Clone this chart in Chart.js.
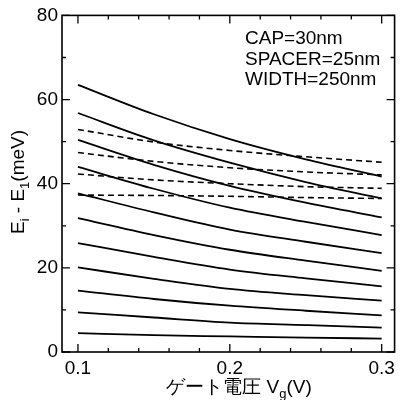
<!DOCTYPE html>
<html>
<head>
<meta charset="utf-8">
<script src="https://cdn.jsdelivr.net/npm/chart.js@4/dist/chart.umd.min.js"></script>
<style>
html,body{margin:0;padding:0;background:#fff;}
#wrap{width:400px;height:400px;}
</style>
</head>
<body>
<div id="wrap"><canvas id="c" width="400" height="400"></canvas></div>
<script>
// ---- data ----
const gateVoltage = [0.10, 0.15, 0.20, 0.25, 0.30];

const level1  = [63.5, 56.5, 50.6, 45.8, 41.7];
const level2  = [56.8, 50.3, 45.0, 40.4, 36.5];
const level3  = [50.4, 44.5, 39.5, 35.5, 32.0];
const level4  = [44.0, 38.8, 34.3, 30.9, 27.8];
const level5  = [37.7, 33.2, 29.1, 26.2, 23.5];
const level6  = [31.8, 27.8, 24.3, 21.7, 19.3];
const level7  = [25.9, 22.6, 19.6, 17.5, 15.6];
const level8  = [20.1, 17.4, 15.0, 13.5, 12.2];
const level9  = [14.6, 12.6, 11.0,  9.8,  8.7];
const level10 = [ 9.4,  8.2,  7.0,  6.4,  5.8];
const level11 = [ 4.5,  4.0,  3.7,  3.4,  3.2];

const dashedA = [52.9, 49.9, 47.9, 46.4, 45.1];
const dashedB = [47.4, 45.3, 43.8, 42.8, 42.1];
const dashedC = [42.3, 40.9, 40.0, 39.3, 38.9];
const dashedD = [37.3, 37.2, 37.0, 36.7, 36.5];

const xTickValues = [0.10, 0.12, 0.14, 0.16, 0.18, 0.20, 0.22, 0.24, 0.26, 0.28, 0.30];
const xTickLabels = ['0.1', '', '', '', '', '0.2', '', '', '', '', '0.3'];
const yTickValues = [0, 10, 20, 30, 40, 50, 60, 70, 80];
const yTickLabels = ['0', '', '20', '', '40', '', '60', '', '80'];

const annotationLines = ['CAP=30nm', 'SPACER=25nm', 'WIDTH=250nm'];
const xTitle = [{t: 'ゲート電圧 V', sub: false}, {t: 'g', sub: true}, {t: '(V)', sub: false}];
const yTitle = [{t: 'E', sub: false}, {t: 'i', sub: true}, {t: ' - E', sub: false}, {t: '1', sub: true}, {t: '(meV)', sub: false}];

// ---- chart ----
const FONT = '"Liberation Sans", Arial, Helvetica, sans-serif';
const solidSeries = [level1, level2, level3, level4, level5, level6, level7, level8, level9, level10, level11];
const dashedSeries = [dashedA, dashedB, dashedC, dashedD];

function toPoints(arr) { return gateVoltage.map((x, i) => ({x: x, y: arr[i]})); }

const datasets = [];
solidSeries.forEach(s => datasets.push({
  data: toPoints(s), borderColor: '#000', borderWidth: 1.8, pointRadius: 0,
  fill: false, cubicInterpolationMode: 'monotone'
}));
dashedSeries.forEach(s => datasets.push({
  data: toPoints(s), borderColor: '#000', borderWidth: 1.6, borderDash: [6, 4], pointRadius: 0,
  fill: false, cubicInterpolationMode: 'monotone'
}));

function drawRich(ctx, segs, size, subSize, subDrop) {
  // draws centered at origin, baseline y=0
  let total = 0;
  const widths = segs.map(s => {
    ctx.font = (s.sub ? subSize : size) + 'px ' + FONT;
    const w = ctx.measureText(s.t).width;
    total += w;
    return w;
  });
  let x = -total / 2;
  segs.forEach((s, i) => {
    ctx.font = (s.sub ? subSize : size) + 'px ' + FONT;
    ctx.fillText(s.t, x, s.sub ? subDrop : 0);
    x += widths[i];
  });
}

const framePlugin = {
  id: 'frame',
  afterDraw(chart) {
    const ctx = chart.ctx;
    const a = chart.chartArea;
    const xs = chart.scales.x, ys = chart.scales.y;
    ctx.save();
    ctx.strokeStyle = '#000';
    ctx.lineWidth = 1.6;
    ctx.strokeRect(a.left, a.top, a.right - a.left, a.bottom - a.top);
    ctx.lineWidth = 1.3;
    ctx.beginPath();
    yTickValues.forEach((v, i) => {
      const p = ys.getPixelForValue(v);
      const len = yTickLabels[i] ? 8 : 4;
      ctx.moveTo(a.left, p); ctx.lineTo(a.left + len, p);
      ctx.moveTo(a.right, p); ctx.lineTo(a.right - len, p);
    });
    xTickValues.forEach((v, i) => {
      const p = xs.getPixelForValue(v);
      const len = xTickLabels[i] ? 8 : 4;
      ctx.moveTo(p, a.bottom); ctx.lineTo(p, a.bottom - len);
      ctx.moveTo(p, a.top); ctx.lineTo(p, a.top + len);
    });
    ctx.stroke();

    ctx.fillStyle = '#000';
    ctx.textBaseline = 'alphabetic';
    ctx.textAlign = 'left';
    ctx.font = '19px ' + FONT;
    const baselines = [44, 64.5, 85];
    annotationLines.forEach((t, i) => ctx.fillText(t, 245, baselines[i]));

    // x title
    ctx.save();
    ctx.translate(239, 393);
    drawRich(ctx, xTitle, 19, 13, 5);
    ctx.restore();

    // y title
    ctx.save();
    ctx.translate(24, 182);
    ctx.rotate(-Math.PI / 2);
    drawRich(ctx, yTitle, 19, 13, 5);
    ctx.restore();
    ctx.restore();
  }
};

new Chart(document.getElementById('c'), {
  type: 'line',
  data: {datasets: datasets},
  options: {
    responsive: false,
    animation: false,
    events: [],
    layout: {padding: {left: 0, right: 3, top: 15, bottom: 0}},
    plugins: {legend: {display: false}, tooltip: {enabled: false}},
    scales: {
      x: {
        type: 'linear', min: 0.0895, max: 0.3085,
        afterBuildTicks: s => { s.ticks = xTickValues.map(v => ({value: v})); },
        afterFit: s => { s.height = 48; },
        grid: {display: false, drawTicks: false},
        border: {display: false},
        ticks: {
          autoSkip: false, maxRotation: 0, minRotation: 0, padding: 5,
          color: '#000', font: {family: FONT, size: 19},
          callback: (v, i) => xTickLabels[i]
        }
      },
      y: {
        type: 'linear', min: 0, max: 80,
        afterBuildTicks: s => { s.ticks = yTickValues.map(v => ({value: v})); },
        afterFit: s => { s.width = 62; },
        grid: {display: false, drawTicks: false},
        border: {display: false},
        ticks: {
          autoSkip: false, padding: 4,
          color: '#000', font: {family: FONT, size: 19},
          callback: (v, i) => yTickLabels[i]
        }
      }
    }
  },
  plugins: [framePlugin]
});
</script>
</body>
</html>
